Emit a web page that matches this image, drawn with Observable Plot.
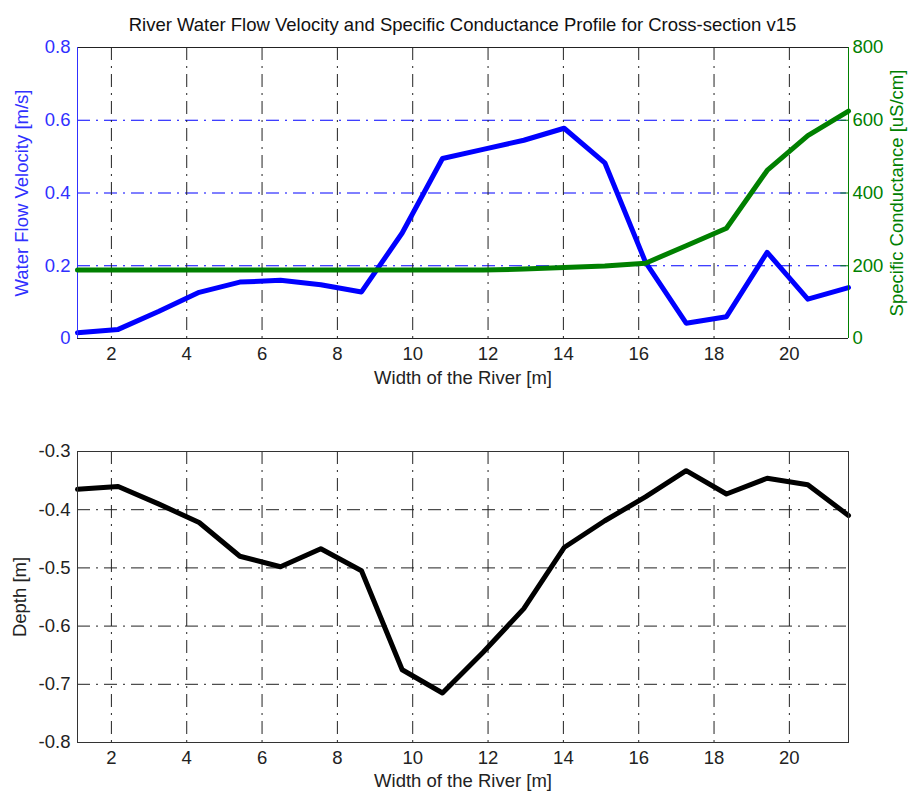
<!DOCTYPE html>
<html><head><meta charset="utf-8">
<script src="https://cdn.jsdelivr.net/npm/d3@7"></script>
<script src="https://cdn.jsdelivr.net/npm/@observablehq/plot@0.6"></script>
<style>
body{margin:0;background:#fff;}
#title{width:909px;height:40px;box-sizing:border-box;padding-left:16px;padding-top:16px;text-align:center;font:18.5px "Liberation Sans",Arial,sans-serif;line-height:18px;color:#111;white-space:nowrap}
#top{position:relative;width:909px;height:355px}
#top svg{position:absolute;left:0;top:0}
#bottom{width:909px;height:399px}
</style></head><body>
<div id="title">River Water Flow Velocity and Specific Conductance Profile for Cross-section v15</div>
<div id="top"></div>
<div id="bottom"></div>
<script>
// ---- data ----
const widths = [1.10, 2.18, 3.25, 4.33, 5.41, 6.49, 7.56, 8.64, 9.72, 10.79, 11.87, 12.95, 14.02, 15.10, 16.18, 17.26, 18.33, 19.41, 20.49, 21.57];
const velocity = [0.016, 0.025, 0.074, 0.127, 0.155, 0.160, 0.148, 0.128, 0.290, 0.495, 0.520, 0.545, 0.578, 0.483, 0.210, 0.042, 0.060, 0.237, 0.108, 0.140];
const conductance = [188, 188, 188, 188, 188, 188, 188, 188, 188, 188, 188, 191, 195, 199, 207, 255, 303, 462, 558, 625];
const depth = [-0.365, -0.360, -0.390, -0.422, -0.480, -0.498, -0.467, -0.505, -0.675, -0.715, -0.645, -0.570, -0.465, -0.419, -0.378, -0.333, -0.373, -0.346, -0.357, -0.410];

const xTicks = [2, 4, 6, 8, 10, 12, 14, 16, 18, 20];
const velTicks = [0, 0.2, 0.4, 0.6, 0.8];
const condTicks = [0, 200, 400, 600, 800];
const depthTicks = [-0.8, -0.7, -0.6, -0.5, -0.4, -0.3];

const titleText = "River Water Flow Velocity and Specific Conductance Profile for Cross-section v15";
const xLabel = "Width of the River [m]";
const velLabel = "Water Flow Velocity [m/s]";
const condLabel = "Specific Conductance [uS/cm]";
const depthLabel = "Depth [m]";

// ---- styling ----
const FONT = '"Liberation Sans", Arial, sans-serif';
const FS = "18.5px";
const BLUE = "#0000ff", BLUE_TXT = "#3030ff", BLUE_GRID = "#0000ff", GREEN = "#008000", DARK = "#222";
const DASH = "13,6,2,6";
const xDomain = [widths[0], widths[widths.length - 1]];
const W = 909, ML = 77, MR = 61;

const velData = widths.map((x, i) => ({x, v: velocity[i]}));
const condData = widths.map((x, i) => ({x, c: conductance[i]}));
const depthData = widths.map((x, i) => ({x, d: depth[i]}));
const style = {fontFamily: FONT, fontSize: FS, background: "transparent", overflow: "visible"};
const lab = {text: d => d, textAnchor: "middle", lineAnchor: "middle"};

// ---- top: velocity (left axis) ----
const top1 = Plot.plot({
  width: W, height: 355, marginLeft: ML, marginRight: MR, marginTop: 7, marginBottom: 57,
  style,
  x: {domain: xDomain},
  y: {domain: [velTicks[0], velTicks[velTicks.length - 1]]},
  marks: [
    Plot.ruleY(velTicks.slice(1, -1), {stroke: BLUE_GRID, strokeDasharray: DASH, strokeWidth: 1}),
    Plot.ruleX(xTicks, {stroke: DARK, strokeDasharray: DASH, strokeWidth: 1}),
    Plot.line(velData, {x: "x", y: "v", stroke: BLUE, strokeWidth: 5}),
    Plot.ruleY([velTicks[velTicks.length - 1]], {stroke: DARK}),
    Plot.ruleY([velTicks[0]], {stroke: DARK}),
    Plot.ruleX([xDomain[0]], {stroke: BLUE_TXT}),
    Plot.axisX(xTicks, {tickSize: 0, tickPadding: 8, label: null, fill: DARK}),
    Plot.axisY(velTicks, {tickSize: 0, tickPadding: 7, tickFormat: d => String(d), label: null, fill: BLUE_TXT}),
    Plot.text([velLabel], {...lab, frameAnchor: "left", dx: -55, rotate: -90, fill: BLUE_TXT}),
    Plot.text([xLabel], {...lab, frameAnchor: "bottom", dy: 40, fill: DARK})
  ]
});

// ---- top overlay: conductance (right axis) ----
const xSpan = xDomain[1] - xDomain[0];
const top2 = Plot.plot({
  width: W, height: 355, marginLeft: ML, marginRight: MR, marginTop: 7, marginBottom: 57,
  style,
  x: {domain: xDomain, axis: null},
  y: {domain: [condTicks[0], condTicks[condTicks.length - 1]], axis: null},
  marks: [
    Plot.line(condData, {x: "x", y: "c", stroke: GREEN, strokeWidth: 5}),
    Plot.ruleX([xDomain[1]], {stroke: GREEN}),
    Plot.ruleY(condTicks.slice(1, -1), {x1: xDomain[1] - xSpan * 0.01, x2: xDomain[1], stroke: GREEN}),
    Plot.axisY(condTicks, {anchor: "right", tickSize: 0, tickPadding: 4, label: null, fill: GREEN}),
    Plot.text([condLabel], {...lab, frameAnchor: "right", dx: 49, rotate: -90, fill: GREEN})
  ]
});

document.getElementById("top").append(top1, top2);

// ---- bottom: depth ----
const bottom = Plot.plot({
  width: W, height: 399, marginLeft: ML, marginRight: MR, marginTop: 56, marginBottom: 52,
  style,
  x: {domain: xDomain},
  y: {domain: [depthTicks[0], depthTicks[depthTicks.length - 1]]},
  marks: [
    Plot.ruleY(depthTicks.slice(1, -1), {stroke: DARK, strokeDasharray: DASH, strokeWidth: 1}),
    Plot.ruleX(xTicks, {stroke: DARK, strokeDasharray: DASH, strokeWidth: 1}),
    Plot.line(depthData, {x: "x", y: "d", stroke: "#000", strokeWidth: 5}),
    Plot.frame({stroke: "#333"}),
    Plot.axisX(xTicks, {tickSize: 0, tickPadding: 8, label: null, fill: DARK}),
    Plot.axisY(depthTicks, {tickSize: 0, tickPadding: 7, tickFormat: d => String(d), label: null, fill: DARK}),
    Plot.text([depthLabel], {...lab, frameAnchor: "left", dx: -57, rotate: -90, fill: DARK}),
    Plot.text([xLabel], {...lab, frameAnchor: "bottom", dy: 39, fill: DARK})
  ]
});
document.getElementById("bottom").append(bottom);
document.getElementById("title").textContent = titleText;
</script>
</body></html>
